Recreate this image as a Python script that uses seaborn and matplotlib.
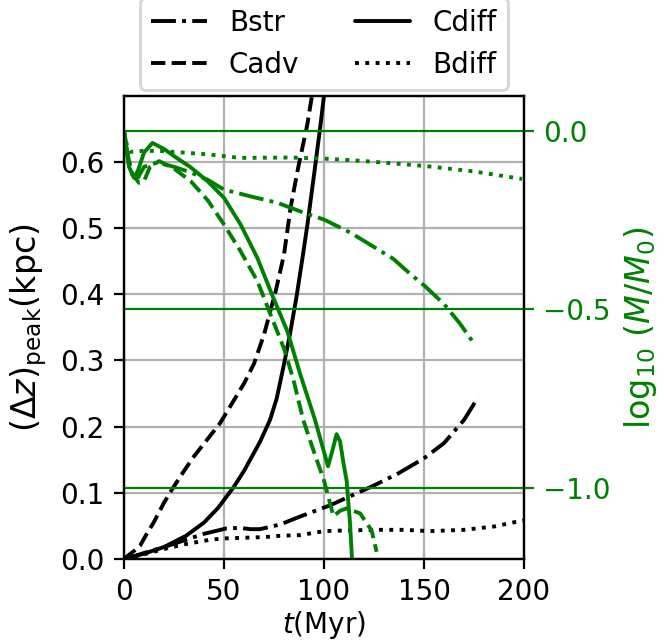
import matplotlib
matplotlib.use("Agg")
import matplotlib.pyplot as plt
import seaborn as sns

# black curves: (dz)_peak in kpc, left axis
bstr_t = [0, 5, 10, 20, 30, 40, 51, 58, 63, 68, 78, 88, 103, 125, 137, 150, 160, 170, 177]
bstr_dz = [0, 0.004, 0.009, 0.018, 0.028, 0.038, 0.046, 0.047, 0.045, 0.045, 0.052, 0.064,
           0.081, 0.111, 0.129, 0.152, 0.175, 0.21, 0.244]

cadv_t = [0, 2, 5, 8, 11, 15, 20, 24, 30, 35, 42, 48, 55, 60, 65, 70, 75.8, 80, 83.3, 87,
          91.7, 94.5]
cadv_dz = [0, 0.005, 0.012, 0.02, 0.036, 0.056, 0.085, 0.105, 0.133, 0.155, 0.182, 0.205,
           0.24, 0.265, 0.295, 0.339, 0.404, 0.46, 0.531, 0.59, 0.657, 0.71]

cdiff_t = [0, 10, 20, 31, 40, 47, 54.7, 60, 64, 68, 73, 76.3, 79.7, 83, 86.3, 89, 91.7, 95,
           98.3, 100, 101]
cdiff_dz = [0, 0.008, 0.018, 0.035, 0.055, 0.077, 0.108, 0.133, 0.155, 0.177, 0.21, 0.242,
            0.29, 0.34, 0.397, 0.45, 0.505, 0.58, 0.657, 0.7, 0.72]

bdiff_t = [0, 10, 20, 30, 43, 50, 60, 70, 78, 88, 100, 110, 128, 140, 153, 170, 185, 196, 200]
bdiff_dz = [0, 0.007, 0.015, 0.022, 0.029, 0.031, 0.032, 0.033, 0.035, 0.036, 0.042, 0.043,
            0.044, 0.044, 0.042, 0.044, 0.049, 0.056, 0.058]

# green curves: log10(M/M0), right axis
gbstr_t = [0, 2, 4, 7, 10, 16.7, 25, 33, 41.7, 50, 63.3, 76.7, 90, 100, 113.3, 125, 134.6,
           142, 150.5, 160, 168, 175.5]
gbstr_m = [0, -0.07, -0.12, -0.13, -0.1, -0.088, -0.1, -0.115, -0.136, -0.164, -0.183,
           -0.201, -0.229, -0.248, -0.285, -0.325, -0.358, -0.395, -0.435, -0.485, -0.54,
           -0.6]

gcadv_t = [0, 2, 4, 7.5, 10, 13, 17.5, 25, 33.3, 42, 50, 58.3, 66.7, 73.3, 80, 84.7, 89.6,
           95, 100, 104.7, 108, 111.3, 118, 123.8, 126.3]
gcadv_m = [0, -0.07, -0.12, -0.145, -0.14, -0.1, -0.084, -0.105, -0.14, -0.195, -0.262,
           -0.337, -0.421, -0.515, -0.61, -0.697, -0.81, -0.9, -0.98, -1.08, -1.065,
           -1.058, -1.072, -1.12, -1.18]

gcdiff_t = [0, 1, 2.5, 5, 7, 10, 14.2, 20, 25, 33, 41.7, 50, 58.3, 66.7, 73.3, 81.7, 88,
            95.5, 100, 102, 104, 106.3, 108, 110, 111.3, 113, 114]
gcdiff_m = [0, -0.05, -0.1, -0.131, -0.11, -0.06, -0.033, -0.05, -0.07, -0.1, -0.14, -0.187,
            -0.262, -0.356, -0.449, -0.562, -0.68, -0.81, -0.9, -0.94, -0.9, -0.85, -0.87,
            -0.94, -0.98, -1.1, -1.2]

gbdiff_t = [0, 1.5, 3.3, 10, 20, 41.7, 58, 83, 100, 115, 125, 151, 175, 199]
gbdiff_m = [0, -0.04, -0.058, -0.055, -0.056, -0.065, -0.075, -0.074, -0.077, -0.082,
            -0.086, -0.098, -0.113, -0.134]

right_ticks = [0.0, -0.5, -1.0]

sns.set_style("ticks", {"axes.edgecolor": "black", "xtick.color": "black",
                        "ytick.color": "black", "text.color": "black",
                        "axes.labelcolor": "black"})
plt.rcParams["font.family"] = ["DejaVu Sans"]
plt.rcParams["font.size"] = 10
plt.rcParams["mathtext.fontset"] = "dejavusans"

fig = plt.figure(figsize=(3.325, 3.205), dpi=200)
ax = fig.add_axes([0.1865, 0.128, 0.6015, 0.723])
lw = 1.4

sns.lineplot(x=bstr_t, y=bstr_dz, ax=ax, color="k", linestyle="-.", lw=lw,
             label="Bstr", sort=False, estimator=None)
sns.lineplot(x=cadv_t, y=cadv_dz, ax=ax, color="k", linestyle="--", lw=lw,
             label="Cadv", sort=False, estimator=None)
sns.lineplot(x=cdiff_t, y=cdiff_dz, ax=ax, color="k", linestyle="-", lw=lw,
             label="Cdiff", sort=False, estimator=None)
sns.lineplot(x=bdiff_t, y=bdiff_dz, ax=ax, color="k", linestyle=":", lw=lw,
             label="Bdiff", sort=False, estimator=None)

ax.set_xlim(0, 200)
ax.set_ylim(0, 0.7)
ax.set_xticks([0, 50, 100, 150, 200])
ax.set_yticks([0.0, 0.1, 0.2, 0.3, 0.4, 0.5, 0.6])
ax.grid(True, color="#b0b0b0", lw=0.8)
ax.set_axisbelow(True)
ax.set_xlabel(r"$t$(Myr)", labelpad=1)
ax.set_ylabel(r"$(\Delta z)_{\rm peak}({\rm kpc})$", fontsize=12)

handles, labels = ax.get_legend_handles_labels()
ax.legend(handles, labels, loc="lower center", bbox_to_anchor=(0.5, 1.0), ncol=2,
          borderaxespad=0.2, fontsize=10)

ax2 = ax.twinx()
g = "green"
sns.lineplot(x=gbstr_t, y=gbstr_m, ax=ax2, color=g, linestyle="-.", lw=lw, sort=False,
             estimator=None)
sns.lineplot(x=gcadv_t, y=gcadv_m, ax=ax2, color=g, linestyle="--", lw=lw, sort=False,
             estimator=None)
sns.lineplot(x=gcdiff_t, y=gcdiff_m, ax=ax2, color=g, linestyle="-", lw=lw, sort=False,
             estimator=None)
sns.lineplot(x=gbdiff_t, y=gbdiff_m, ax=ax2, color=g, linestyle=":", lw=lw, sort=False,
             estimator=None)
ax2.set_ylim(-1.2, 0.1)
ax2.set_yticks(right_ticks)
ax2.grid(True, axis="y", color=g, lw=0.8)
ax2.tick_params(axis="y", colors=g)
ax2.set_ylabel(r"$\log_{10}\,(M/M_0)$", color=g, fontsize=12)

fig.savefig("out.png", dpi=200)
